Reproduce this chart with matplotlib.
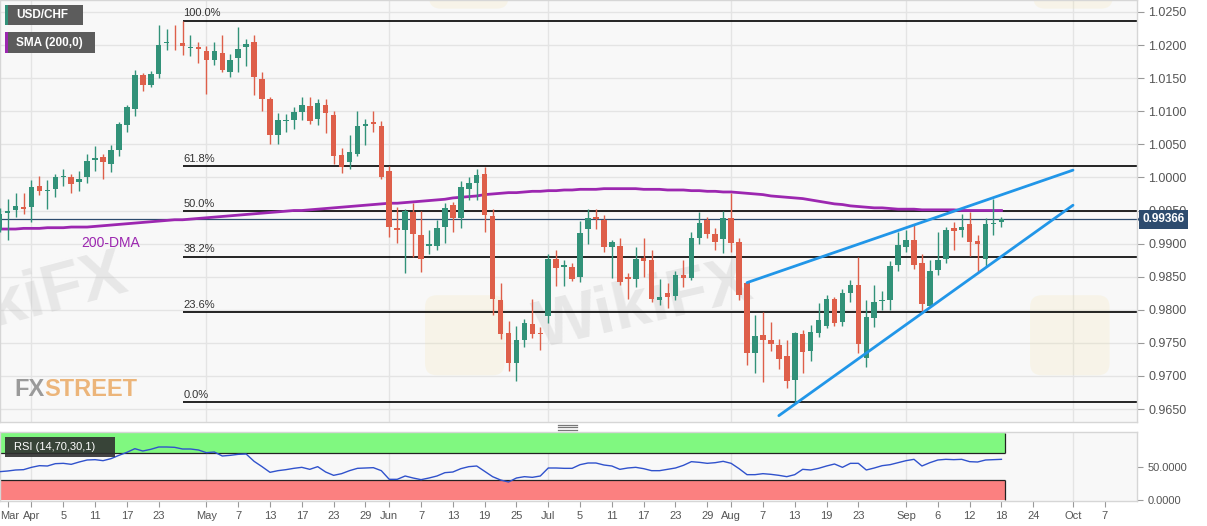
import numpy as np
import pandas as pd
import matplotlib
matplotlib.use("Agg")
import matplotlib.pyplot as plt
import matplotlib.transforms as mtransforms
from matplotlib.patches import Rectangle, FancyBboxPatch, Polygon
from matplotlib.lines import Line2D

plt.rcParams["font.family"] = ["Liberation Sans", "DejaVu Sans"]

# USD/CHF daily candles, 2019-03-26 .. 2019-09-18
start_date = "2019-03-26"
opens = [
    0.9921, 0.9946, 0.9951, 0.9955, 0.9956, 0.9987, 0.9979, 0.9982, 1.0001, 1.0001,
    0.9993, 1.0000, 1.0027, 1.0031, 1.0020, 1.0042, 1.0079, 1.0104, 1.0155, 1.0140,
    1.0156, 1.0203, 1.0205, 1.0203, 1.0196, 1.0197, 1.0191, 1.0178, 1.0188, 1.0160,
    1.0180, 1.0197, 1.0204, 1.0149, 1.0118, 1.0064, 1.0086, 1.0087, 1.0099, 1.0108,
    1.0088, 1.0110, 1.0095, 1.0034, 1.0024, 1.0036, 1.0077, 1.0083, 1.0078, 1.0010,
    0.9924, 0.9921, 0.9947, 0.9913, 0.9897, 0.9896, 0.9925, 0.9958, 0.9938, 0.9983,
    0.9992, 1.0005, 0.9941, 0.9815, 0.9765, 0.9720, 0.9754, 0.9779, 0.9765, 0.9791,
    0.9876, 0.9865, 0.9865, 0.9850, 0.9922, 0.9940, 0.9936, 0.9895, 0.9897, 0.9850,
    0.9846, 0.9878, 0.9875, 0.9815, 0.9826, 0.9821, 0.9853, 0.9848, 0.9909, 0.9935,
    0.9915, 0.9907, 0.9939, 0.9902, 0.9841, 0.9735, 0.9762, 0.9754, 0.9747, 0.9730,
    0.9694, 0.9764, 0.9738, 0.9765, 0.9776, 0.9816, 0.9781, 0.9825, 0.9838, 0.9727,
    0.9787, 0.9814, 0.9815, 0.9867, 0.9895, 0.9906, 0.9871, 0.9806, 0.9860, 0.9876,
    0.9924, 0.9920, 0.9929, 0.9904, 0.9877, 0.9929, 0.9932,
]
highs = [
    0.9954, 0.9967, 0.9976, 0.9977, 0.9996, 1.0002, 0.9996, 1.0005, 1.0013, 1.0005,
    1.0010, 1.0035, 1.0047, 1.0036, 1.0049, 1.0084, 1.0109, 1.0162, 1.0158, 1.0161,
    1.0230, 1.0225, 1.0230, 1.0237, 1.0215, 1.0205, 1.0198, 1.0205, 1.0215, 1.0187,
    1.0227, 1.0209, 1.0215, 1.0159, 1.0121, 1.0098, 1.0096, 1.0106, 1.0122, 1.0122,
    1.0119, 1.0119, 1.0101, 1.0044, 1.0064, 1.0100, 1.0088, 1.0101, 1.0086, 1.0017,
    0.9955, 0.9952, 0.9961, 0.9949, 0.9920, 0.9936, 0.9961, 0.9963, 0.9994, 1.0000,
    1.0013, 1.0016, 0.9952, 0.9840, 0.9783, 0.9776, 0.9786, 0.9816, 0.9774, 0.9885,
    0.9890, 0.9875, 0.9871, 0.9934, 0.9952, 0.9952, 0.9943, 0.9905, 0.9909, 0.9855,
    0.9895, 0.9908, 0.9891, 0.9847, 0.9841, 0.9859, 0.9875, 0.9918, 0.9948, 0.9940,
    0.9923, 0.9950, 0.9976, 0.9909, 0.9841, 0.9792, 0.9797, 0.9782, 0.9756, 0.9754,
    0.9767, 0.9770, 0.9777, 0.9810, 0.9822, 0.9820, 0.9832, 0.9845, 0.9879, 0.9815,
    0.9838, 0.9829, 0.9873, 0.9918, 0.9920, 0.9928, 0.9885, 0.9875, 0.9918, 0.9925,
    0.9932, 0.9944, 0.9947, 0.9913, 0.9938, 0.9968, 0.9940,
]
lows = [
    0.9917, 0.9905, 0.9940, 0.9944, 0.9933, 0.9973, 0.9953, 0.9970, 0.9987, 0.9977,
    0.9980, 0.9991, 1.0009, 0.9997, 1.0008, 1.0032, 1.0069, 1.0093, 1.0131, 1.0136,
    1.0150, 1.0193, 1.0193, 1.0185, 1.0184, 1.0173, 1.0126, 1.0170, 1.0160, 1.0151,
    1.0160, 1.0169, 1.0125, 1.0101, 1.0050, 1.0050, 1.0068, 1.0073, 1.0087, 1.0081,
    1.0079, 1.0067, 1.0020, 1.0007, 1.0012, 1.0033, 1.0049, 1.0069, 0.9997, 0.9910,
    0.9901, 0.9855, 0.9879, 0.9857, 0.9885, 0.9890, 0.9901, 0.9917, 0.9924, 0.9966,
    0.9966, 0.9918, 0.9792, 0.9756, 0.9708, 0.9693, 0.9743, 0.9758, 0.9739, 0.9780,
    0.9836, 0.9836, 0.9844, 0.9842, 0.9899, 0.9922, 0.9888, 0.9848, 0.9837, 0.9817,
    0.9834, 0.9850, 0.9812, 0.9807, 0.9803, 0.9815, 0.9834, 0.9845, 0.9899, 0.9908,
    0.9890, 0.9886, 0.9888, 0.9815, 0.9716, 0.9704, 0.9691, 0.9737, 0.9710, 0.9682,
    0.9660, 0.9705, 0.9722, 0.9759, 0.9773, 0.9775, 0.9775, 0.9812, 0.9735, 0.9714,
    0.9774, 0.9800, 0.9800, 0.9859, 0.9887, 0.9862, 0.9797, 0.9804, 0.9852, 0.9871,
    0.9890, 0.9910, 0.9881, 0.9857, 0.9864, 0.9913, 0.9925,
]
closes = [
    0.9945, 0.9950, 0.9957, 0.9953, 0.9986, 0.9979, 0.9981, 1.0001, 1.0002, 0.9990,
    0.9998, 1.0025, 1.0029, 1.0024, 1.0041, 1.0081, 1.0106, 1.0155, 1.0140, 1.0156,
    1.0200, 1.0204, 1.0204, 1.0199, 1.0197, 1.0194, 1.0178, 1.0191, 1.0162, 1.0177,
    1.0194, 1.0202, 1.0151, 1.0119, 1.0064, 1.0087, 1.0087, 1.0099, 1.0110, 1.0086,
    1.0112, 1.0097, 1.0032, 1.0016, 1.0039, 1.0078, 1.0081, 1.0081, 1.0000, 0.9925,
    0.9920, 0.9949, 0.9914, 0.9877, 0.9899, 0.9924, 0.9954, 0.9939, 0.9986, 0.9991,
    1.0004, 0.9943, 0.9817, 0.9764, 0.9719, 0.9755, 0.9780, 0.9764, 0.9763, 0.9877,
    0.9863, 0.9867, 0.9847, 0.9916, 0.9938, 0.9937, 0.9895, 0.9902, 0.9842, 0.9846,
    0.9877, 0.9874, 0.9816, 0.9819, 0.9820, 0.9852, 0.9848, 0.9908, 0.9931, 0.9915,
    0.9903, 0.9938, 0.9901, 0.9822, 0.9734, 0.9761, 0.9755, 0.9749, 0.9726, 0.9693,
    0.9765, 0.9736, 0.9766, 0.9785, 0.9817, 0.9780, 0.9826, 0.9837, 0.9749, 0.9789,
    0.9812, 0.9815, 0.9866, 0.9898, 0.9906, 0.9867, 0.9808, 0.9859, 0.9875, 0.9921,
    0.9919, 0.9925, 0.9903, 0.9900, 0.9929, 0.9931, 0.99366,
]
sma200 = [
    0.9922, 0.9922, 0.9922, 0.9923, 0.9923, 0.9923, 0.9924, 0.9924, 0.9924, 0.9925,
    0.9925, 0.9925, 0.9926, 0.9927, 0.9928, 0.9929, 0.9930, 0.9931, 0.9932, 0.9933,
    0.9934, 0.9935, 0.9936, 0.9936, 0.9937, 0.9938, 0.9939, 0.9940, 0.9941, 0.9942,
    0.9943, 0.9944, 0.9945, 0.9946, 0.9947, 0.9948, 0.9949, 0.9950, 0.9950, 0.9951,
    0.9952, 0.9953, 0.9954, 0.9955, 0.9956, 0.9957, 0.9958, 0.9959, 0.9960, 0.9961,
    0.9961, 0.9962, 0.9963, 0.9964, 0.9965, 0.9966, 0.9967, 0.9969, 0.9970, 0.9971,
    0.9972, 0.9974, 0.9975, 0.9976, 0.9977, 0.9977, 0.9978, 0.9979, 0.9979, 0.9980,
    0.9980, 0.9981, 0.9981, 0.9982, 0.9982, 0.9982, 0.9983, 0.9983, 0.9983, 0.9983,
    0.9983, 0.9982, 0.9982, 0.9982, 0.9981, 0.9981, 0.9981, 0.9980, 0.9980, 0.9979,
    0.9979, 0.9978, 0.9978, 0.9977, 0.9976, 0.9975, 0.9974, 0.9972, 0.9971, 0.9970,
    0.9969, 0.9968, 0.9966, 0.9964, 0.9962, 0.9960, 0.9959, 0.9957, 0.9956, 0.9955,
    0.9954, 0.9954, 0.9953, 0.9952, 0.9952, 0.9952, 0.9951, 0.9951, 0.9951, 0.9951,
    0.9951, 0.9950, 0.9950, 0.9950, 0.9950, 0.9950, 0.9950,
]
rsi = [
    42.5, 43.5, 45, 45.5, 49, 51.5, 51, 54.5, 55, 53.5,
    57, 60, 60.5, 59, 62, 67, 71.5, 77, 73.5, 76,
    79.5, 79.5, 79, 76.5, 76.5, 75, 71, 72, 66, 67,
    68.5, 69, 58, 50, 41.5, 44, 45.5, 47.5, 49, 46,
    50, 42, 37, 39.5, 44, 47.5, 48, 48.5, 44, 31,
    31, 36, 33, 30.5, 33, 36, 41, 42, 47, 50,
    51, 43, 35, 30, 27, 33, 35, 34, 36, 48,
    48, 47.5, 47.5, 53, 55.5, 55.5, 52.5, 51, 46, 48,
    49, 47, 44, 44, 46, 48, 52, 57.5, 56.5, 55,
    56, 58, 55, 47, 38, 38, 39.5, 38.5, 37, 35,
    38, 46, 45, 47.5, 51, 54, 49, 55, 55, 45,
    48, 51.5, 53, 56, 59, 61, 51, 56, 60, 61,
    60.5, 61, 57.5, 57, 60, 60.5, 61,
]

# Fibonacci retracement of the April high / August low
fib_high = 1.0237
fib_low = 0.9660
fib_start = "2019-04-26"
fib_ratios = [1.0, 0.618, 0.5, 0.382, 0.236, 0.0]
last_price = 0.99366

# rising wedge trend lines: (date, price) end points
upper_trend = [("2019-08-05", 0.9841), ("2019-10-01", 1.0011)]
lower_trend = [("2019-08-09", 0.9640), ("2019-10-01", 0.9958)]

price_ticks = [0.9650, 0.9700, 0.9750, 0.9800, 0.9850, 0.9900, 0.9950,
               1.0000, 1.0050, 1.0100, 1.0150, 1.0200, 1.0250]
tick_dates = ["2019-03-27", "2019-04-01", "2019-04-05", "2019-04-11", "2019-04-17",
              "2019-04-23", "2019-05-01", "2019-05-07", "2019-05-13", "2019-05-17",
              "2019-05-23", "2019-05-29", "2019-06-03", "2019-06-07", "2019-06-13",
              "2019-06-19", "2019-06-25", "2019-07-01", "2019-07-05", "2019-07-11",
              "2019-07-17", "2019-07-23", "2019-07-29", "2019-08-01", "2019-08-07",
              "2019-08-13", "2019-08-19", "2019-08-23", "2019-09-02", "2019-09-06",
              "2019-09-12", "2019-09-18", "2019-09-24", "2019-10-01", "2019-10-07"]
tick_labels = ["Mar", "Apr", "5", "11", "17", "23", "May", "7", "13", "17", "23", "29",
               "Jun", "7", "13", "19", "25", "Jul", "5", "11", "17", "23", "29",
               "Aug", "7", "13", "19", "23", "Sep", "6", "12", "18", "24", "Oct", "7"]
month_starts = ["2019-04-01", "2019-05-01", "2019-06-03", "2019-07-01",
                "2019-08-01", "2019-09-02", "2019-10-01"]

# trading-day calendar -> integer x positions
calendar = pd.bdate_range(start_date, "2019-10-31")


def pos(d):
    return calendar.get_loc(pd.Timestamp(d))


n = len(closes)
x = np.arange(n)
o = np.array(opens)
h = np.array(highs)
l = np.array(lows)
c = np.array(closes)

GREEN = "#329279"
RED = "#de5f4a"
PURPLE = "#9c27b0"
BLUE = "#2196e8"
GRID = "#e4e4e4"
TXT = "#555555"

W, H = 1207, 526
fig = plt.figure(figsize=(W / 100, H / 100), dpi=100)
fig.patch.set_facecolor("white")
ax = fig.add_axes([0, 1 - 422 / H, 1137 / W, 422 / H])
ax_rsi = fig.add_axes([0, 1 - 501 / H, 1137 / W, 69 / H], sharex=ax)

xmin, xmax = 0.04, 143.05
ymin, ymax = 0.96304, 1.02681
for a in (ax, ax_rsi):
    a.set_facecolor("#f8f8f8")
    for s in a.spines.values():
        s.set_color("#d6d6d6")
        s.set_linewidth(1)
    for m in month_starts:
        a.axvline(pos(m), color=GRID, lw=1, zorder=0)

# ---- main price panel ----
for t in price_ticks:
    ax.axhline(t, color=GRID, lw=1, zorder=0)

# faint watermarks
aspect = (1137 / (xmax - xmin)) / (422 / (ymax - ymin))
for bx, by in [(53.5, 0.9701), (129.6, 0.9701), (54.0, 1.0255), (130.0, 1.0255)]:
    ax.add_patch(FancyBboxPatch((bx, by), 10, 0.0121,
                                boxstyle="round,pad=0,rounding_size=1.5",
                                mutation_aspect=aspect, fc="#f3e3a8", ec="none",
                                alpha=0.2, zorder=0.4))
ax.text(17, 0.9810, "WikiFX", fontsize=48, fontweight="bold", color="#c4c4c4",
        alpha=0.32, rotation=15, ha="right", va="center", zorder=0.5)
ax.text(81, 0.9805, "WikiFX", fontsize=48, fontweight="bold", color="#c4c4c4",
        alpha=0.32, rotation=13, ha="center", va="center", zorder=0.5)

fx_txt = ax.text(1.8, 0.9680, "FX", fontsize=17, fontweight="bold", color="#9a9a9a",
                 va="center", ha="left", zorder=0.6)
fig.canvas.draw()
fx_end = ax.transData.inverted().transform(
    (fx_txt.get_window_extent().x1, 0))[0]
ax.text(fx_end, 0.9680, "STREET", fontsize=17, fontweight="bold", color="#ecb57a",
        va="center", ha="left", zorder=0.6)

# fibonacci levels
fx0 = pos(fib_start)
for r in fib_ratios:
    lev = fib_low + r * (fib_high - fib_low)
    ax.hlines(lev, fx0, xmax, color="black", lw=1.2, zorder=2)
    ax.annotate(f"{r * 100:.1f}%", (fx0, lev), xytext=(0.5, 1.5),
                textcoords="offset points", fontsize=8, color="#333333",
                ha="left", va="bottom", zorder=2)

# last price line
ax.axhline(last_price, color="#2d4b6e", lw=0.9, zorder=2)

# 200-DMA
ax.plot(x, sma200, color=PURPLE, lw=2, zorder=3)
ax.annotate("200-DMA", (14, sma200[14]), xytext=(0, -13), textcoords="offset points",
            fontsize=10, color=PURPLE, ha="center", va="center", zorder=3)

# candles
up = c >= o
colors = np.where(up, GREEN, RED)
ax.vlines(x, l, h, colors=colors, lw=1, zorder=4)
body_lo = np.minimum(o, c)
body_h = np.maximum(np.abs(c - o), 0.00009)
ax.bar(x, body_h, bottom=body_lo, width=0.7, color=colors, zorder=5)

# wedge lines
for pts in (upper_trend, lower_trend):
    ax.plot([pos(pts[0][0]), pos(pts[1][0])], [pts[0][1], pts[1][1]],
            color=BLUE, lw=2, solid_capstyle="round", zorder=6)

ax.set_xlim(xmin, xmax)
ax.set_ylim(ymin, ymax)
ax.yaxis.tick_right()
ax.set_yticks(price_ticks)
ax.set_yticklabels([f"{t:.4f}" for t in price_ticks])
ax.tick_params(axis="y", colors="#999999", labelcolor=TXT, labelsize=9, length=5,
               pad=3)
ax.tick_params(axis="x", bottom=False, labelbottom=False)

# price tag on the axis
blend = mtransforms.blended_transform_factory(ax.transAxes, ax.transData)
ax.text(1.0045, last_price, f"{last_price:.5f}", transform=blend, fontsize=8.5,
        fontweight="bold", color="white", ha="left", va="center", clip_on=False,
        zorder=10, bbox=dict(boxstyle="square,pad=0.3", fc="#2d4b6e", ec="none"))
ax.add_patch(Polygon([(1.0005, last_price), (1.0045, last_price + 0.0009),
                      (1.0045, last_price - 0.0009)], closed=True, transform=blend,
                     fc="#2d4b6e", ec="none", clip_on=False, zorder=10))

# ---- RSI panel ----
band_end = n - 0.5
ax_rsi.fill_between([xmin, band_end], 70, 100, color="#80f880", lw=0, zorder=1)
ax_rsi.fill_between([xmin, band_end], 0, 30, color="#fb8080", lw=0, zorder=1)
ax_rsi.hlines([70, 30], xmin, band_end, color="#222222", lw=0.9, zorder=2)
ax_rsi.vlines(band_end, 70, 100, color="#222222", lw=0.9, zorder=2)
ax_rsi.vlines(band_end, 0, 30, color="#222222", lw=0.9, zorder=2)
ax_rsi.plot(x, rsi, color="#3052cc", lw=1, zorder=3)
ax_rsi.set_ylim(-1.5, 102)
ax_rsi.yaxis.tick_right()
ax_rsi.set_yticks([0, 50])
ax_rsi.set_yticklabels(["0.0000", "50.0000"])
ax_rsi.tick_params(axis="y", colors="#999999", labelcolor=TXT, labelsize=8, length=4)
ax_rsi.set_xticks([pos(d) for d in tick_dates])
ax_rsi.set_xticklabels(tick_labels)
ax_rsi.tick_params(axis="x", colors="#999999", labelcolor=TXT, labelsize=8,
                   length=4, pad=3)
ax_rsi.set_xlim(xmin, xmax)
first_lbl = ax_rsi.get_xticklabels()[0]
first_lbl.set_horizontalalignment("left")
first_lbl.set_x(first_lbl.get_position()[0])
first_lbl.set_transform(first_lbl.get_transform() +
                        mtransforms.ScaledTranslation(-7.5 / 100, 0,
                                                      fig.dpi_scale_trans))


# ---- legend boxes and panel grip ----
def fig_rect(px, py, pw, ph, **kw):
    fig.add_artist(Rectangle((px / W, 1 - (py + ph) / H), pw / W, ph / H,
                             transform=fig.transFigure, **kw))


fig_rect(5, 5, 78, 20, fc="#5c5c5c", ec="none", zorder=8)
fig_rect(5, 5, 2.5, 20, fc=GREEN, ec="none", zorder=9)
fig.text(16 / W, 1 - 15.5 / H, "USD/CHF", color="white", fontsize=8.5,
         fontweight="bold", va="center", ha="left", zorder=10)
fig_rect(5, 32, 90, 21, fc="#5c5c5c", ec="none", zorder=8)
fig_rect(5, 32, 2.5, 21, fc=PURPLE, ec="none", zorder=9)
fig.text(16 / W, 1 - 43 / H, "SMA (200,0)", color="white", fontsize=8.5,
         fontweight="bold", va="center", ha="left", zorder=10)
fig_rect(5, 437, 110, 20, fc="#303030", ec="none", alpha=0.9, zorder=8)
fig.text(14 / W, 1 - 447 / H, "RSI (14,70,30,1)", color="white", fontsize=8,
         va="center", ha="left", zorder=10)

for gy in (424.5, 427, 429.5):
    fig.add_artist(Line2D([558 / W, 577 / W], [1 - gy / H, 1 - gy / H],
                          color="#777777", lw=0.9, transform=fig.transFigure))

fig.savefig("out.png", dpi=100)
